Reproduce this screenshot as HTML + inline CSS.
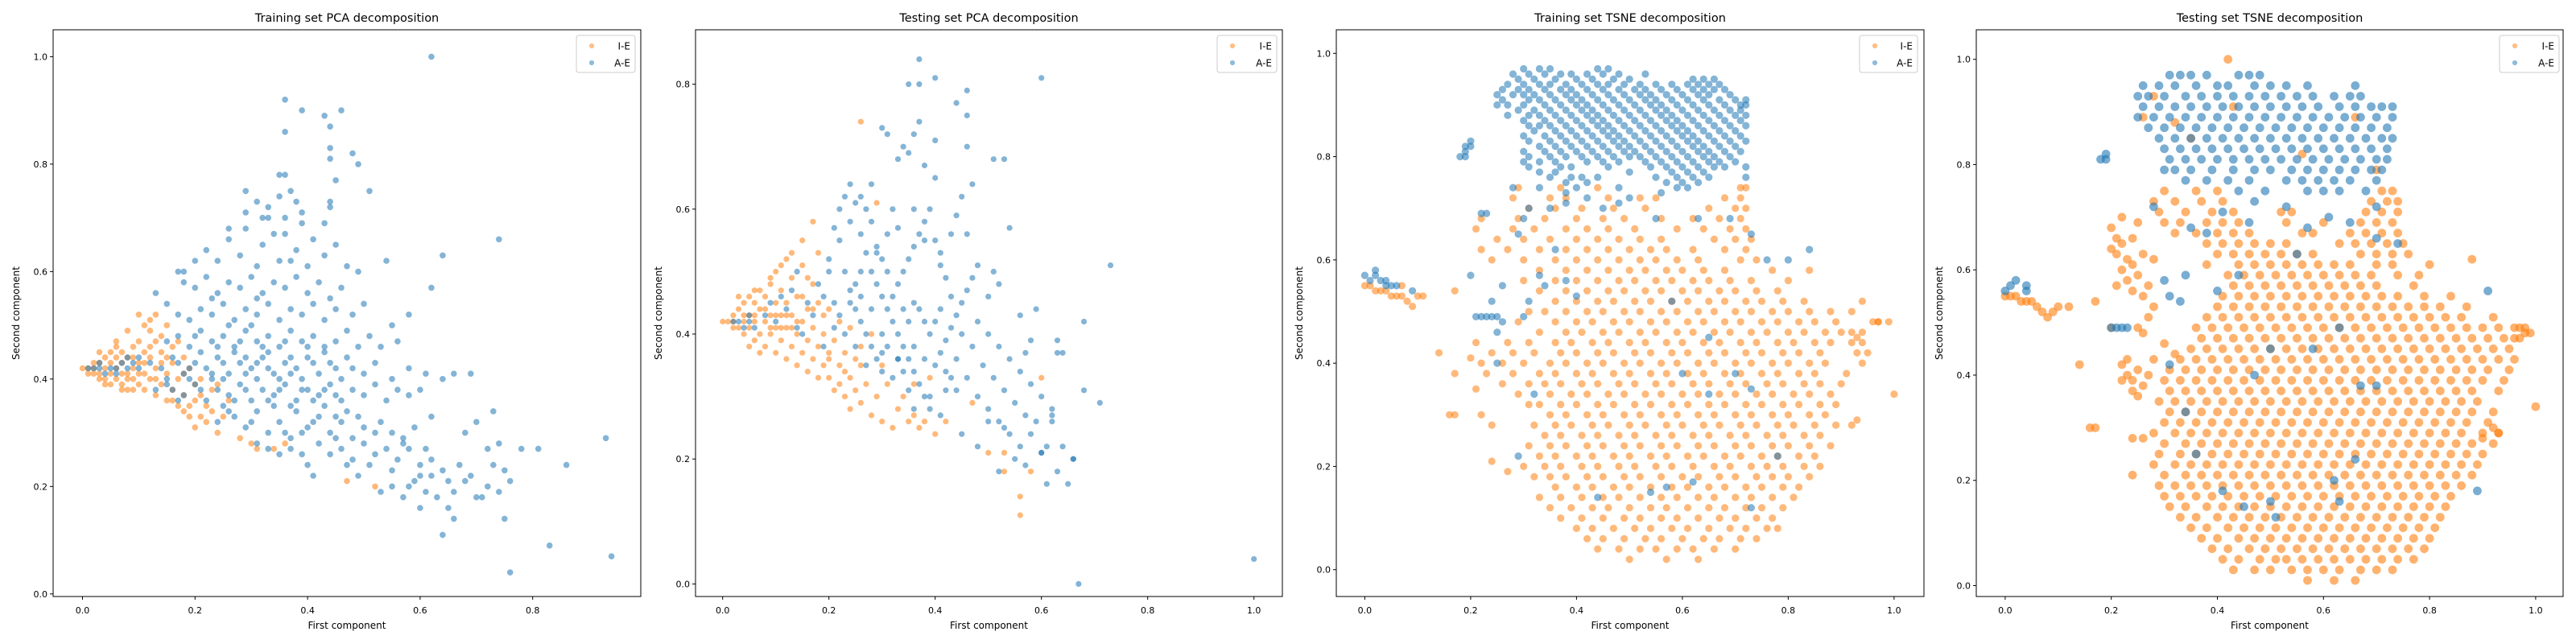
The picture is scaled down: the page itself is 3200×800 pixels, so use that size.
<!DOCTYPE html>
<html><head><meta charset="utf-8"><title>PCA / TSNE decompositions</title>
<style>
html,body{margin:0;padding:0;background:#fff;}
svg{display:block;font-family:"DejaVu Sans","Liberation Sans",sans-serif;}
</style></head>
<body>
<svg id="fig" width="3200" height="800" viewBox="0 0 3200 800" xmlns="http://www.w3.org/2000/svg">
<rect x="0" y="0" width="3200" height="800" fill="#fff"/>
</svg>
<script>
// ---------- Panel 1: Training set PCA ----------
const trainPcaIE = [0,.42,.01,.42,.02,.42,.02,.41,.03,.43,.03,.41,.04,.42,.04,.44,.04,.40,.05,.43,.05,.41,.05,.45,.06,.42,.06,.40,.06,.44,.07,.43,.07,.39,.07,.45,.08,.41,.08,.44,.08,.38,.09,.42,.09,.40,.09,.46,.10,.43,.10,.39,.10,.47,.11,.41,.11,.45,.11,.38,.12,.44,.12,.40,.12,.49,.13,.42,.13,.37,.13,.47,.14,.45,.14,.39,.15,.41,.15,.36,.15,.50,.16,.43,.16,.38,.17,.40,.17,.35,.18,.37,.18,.34,.19,.42,.19,.33,.20,.36,.20,.31,.21,.33,.22,.35,.22,.32,.23,.38,.24,.30,.25,.33,.28,.29,.30,.28,.31,.27,.34,.27,.36,.28,.47,.21,.52,.20,.10,.52,.12,.51,.14,.48,.08,.49,.06,.47,.03,.45,.02,.43,.05,.39,.07,.41,.09,.44,.11,.43,.13,.40,.16,.46,.18,.41,.06,.46,.04,.39,.08,.40,.10,.41,.12,.46,.14,.43,.16,.36,.18,.44,.20,.39,.21,.37,.15,.44,.17,.47,.09,.38,.07,.38,.03,.40,.01,.41,.11,.50,.13,.52,.19,.35,.23,.34,.26,.36,.21,.40,.24,.39];
const trainPcaAE = [.01,.42,.02,.42,.03,.42,.04,.41,.05,.42,.06,.42,.07,.43,.08,.42,.09,.43,.10,.42,.06,.41,.08,.44,.10,.44,.12,.43,.03,.43,
.24,.32,.27,.33,.29,.31,.31,.34,.33,.30,.35,.32,.37,.29,.38,.34,.40,.31,.42,.33,.44,.30,.46,.32,.48,.29,.50,.31,.52,.30,.34,.35,.39,.30,.43,.35,.47,.34,.30,.32,.36,.30,.41,.32,.26,.34,.45,.33,.49,.33,.53,.32,.55,.30,.57,.28,.59,.31,.61,.27,
.31,.28,.33,.27,.37,.27,.39,.26,.42,.28,.44,.26,.46,.27,.48,.25,.50,.28,.52,.26,.54,.27,.56,.25,.58,.27,.60,.24,.62,.25,.40,.24,.35,.26,.45,.29,.51,.24,.55,.23,.57,.29,
.41,.22,.47,.24,.49,.22,.53,.19,.55,.20,.57,.18,.59,.21,.61,.19,.63,.18,.65,.21,.64,.23,.66,.19,.68,.21,.70,.18,.72,.20,.74,.19,.76,.21,.62,.22,.60,.22,.58,.20,.67,.24,.69,.22,.73,.24,.65,.16,.74,.28,.78,.27,.72,.27,.68,.30,
.62,1.0,.36,.92,.39,.90,.46,.90,.43,.89,.44,.87,.36,.86,.44,.83,.44,.81,.48,.82,.49,.80,.36,.78,.35,.78,.45,.77,.51,.75,.74,.66,.64,.63,.54,.62,.62,.57,.83,.09,.94,.07,.76,.04,.64,.11,.75,.14,.66,.14,.81,.27,.86,.24,.93,.29,.69,.41,.66,.41,.70,.32,.73,.34,.62,.33,.75,.23,.60,.16,.71,.18,
.16,.38,.18,.37,.20,.39,.22,.36,.24,.38,.26,.37,.28,.39,.30,.36,.32,.38,.34,.37,.36,.39,.38,.36,.40,.38,.42,.37,.44,.39,.46,.36,.48,.38,.50,.37,.52,.39,.54,.36,.56,.38,.58,.37,.25,.35,.27,.36,.29,.38,.31,.40,.33,.36,.35,.38,.37,.35,.39,.38,.41,.36,.43,.38,.45,.37,.23,.40,.21,.38,.19,.40,.17,.36,.13,.38,.15,.39,.60,.38,
.14,.42,.16,.44,.18,.41,.20,.43,.22,.42,.24,.44,.26,.41,.28,.43,.30,.42,.32,.44,.34,.41,.36,.43,.38,.42,.40,.44,.42,.41,.44,.43,.46,.40,.48,.42,.50,.41,.52,.43,.55,.40,.58,.42,.61,.41,.64,.40,.21,.45,.23,.41,.25,.43,.27,.45,.29,.41,.31,.43,.33,.45,.35,.40,.37,.44,.39,.40,.41,.43,.43,.45,.45,.42,.47,.44,.19,.42,.17,.43,.15,.40,.25,.40,.29,.44,.33,.42,.37,.41,
.15,.47,.17,.48,.19,.46,.21,.49,.23,.47,.25,.48,.27,.46,.29,.49,.31,.47,.33,.48,.35,.46,.37,.49,.39,.47,.41,.48,.43,.46,.45,.47,.47,.49,.49,.46,.51,.48,.53,.46,.56,.47,.24,.46,.28,.47,.32,.46,.36,.47,.40,.46,.20,.48,.26,.50,.30,.50,
.17,.52,.19,.51,.21,.53,.23,.52,.25,.54,.27,.51,.29,.53,.31,.52,.33,.54,.35,.51,.37,.53,.39,.52,.41,.54,.43,.51,.45,.53,.48,.52,.50,.54,.55,.50,.13,.56,.15,.54,.58,.52,
.18,.58,.20,.57,.22,.59,.24,.56,.26,.58,.28,.57,.30,.59,.32,.56,.34,.58,.36,.57,.38,.59,.40,.56,.42,.58,.44,.55,.46,.57,.49,.60,.17,.60,.23,.55,.31,.55,
.22,.64,.24,.62,.26,.66,.28,.63,.29,.68,.31,.61,.32,.65,.33,.70,.35,.62,.36,.67,.38,.64,.40,.61,.41,.66,.43,.63,.45,.65,.47,.61,.26,.68,.34,.67,.39,.69,.43,.69,.37,.62,.20,.62,.18,.60,
.29,.75,.31,.73,.33,.72,.35,.74,.37,.75,.38,.73,.39,.71,.44,.73,.44,.72,.32,.70,.36,.70,.29,.71];

// ---------- Panel 2: Testing set PCA ----------
const testPcaIE = [0,.42,.01,.42,.02,.42,.02,.43,.03,.41,.03,.44,.04,.42,.04,.40,.04,.45,.05,.43,.05,.41,.05,.46,.06,.42,.06,.39,.06,.45,.07,.44,.07,.40,.07,.47,.08,.42,.08,.38,.08,.46,.09,.43,.09,.40,.09,.48,.10,.41,.10,.45,.10,.37,.10,.50,.11,.43,.11,.39,.11,.47,.12,.41,.12,.36,.12,.45,.12,.52,.13,.43,.13,.38,.13,.49,.14,.40,.14,.46,.14,.35,.15,.42,.15,.37,.15,.51,.16,.44,.16,.39,.16,.34,.17,.41,.17,.36,.17,.48,.18,.38,.18,.33,.18,.45,.19,.40,.19,.35,.20,.37,.20,.33,.21,.39,.21,.31,.22,.35,.22,.32,.23,.30,.23,.37,.24,.28,.24,.33,.25,.31,.26,.29,.26,.35,.27,.32,.28,.27,.29,.30,.30,.26,.31,.32,.32,.25,.33,.28,.34,.30,.35,.26,.36,.27,.37,.25,.38,.26,.40,.24,.42,.26,.36,.32,.39,.33,.30,.35,.26,.38,.28,.40,.13,.53,.11,.51,.09,.49,.06,.47,.03,.46,.16,.49,.18,.53,.20,.44,.22,.42,.24,.41,.19,.43,.05,.38,.07,.37,.02,.41,.08,.44,.10,.43,.12,.43,.14,.42,.06,.43,.04,.43,.09,.41,.11,.41,.13,.41,.15,.46,.17,.44,.47,.29,.50,.21,.53,.21,.53,.18,.56,.11,.56,.14,.58,.18,.60,.33,.26,.74,.29,.61,.17,.58,.15,.55,.20,.36,.23,.34,.25,.36];
const testPcaAE = [.02,.42,.03,.42,.04,.41,.05,.42,.06,.41,.05,.43,.08,.43,.10,.42,.12,.44,.14,.41,.09,.45,.13,.47,.16,.45,.15,.40,.17,.43,.18,.48,.19,.46,.20,.50,.21,.45,.22,.43,.11,.46,.14,.50,
.20,.52,.22,.55,.24,.58,.26,.56,.27,.53,.28,.50,.29,.48,.30,.46,.31,.44,.32,.42,.33,.40,.34,.38,.35,.36,.36,.34,.37,.32,.38,.30,.39,.28,.40,.35,.41,.37,.42,.39,.43,.41,.44,.43,.45,.45,.46,.47,.47,.49,.48,.51,.45,.40,.44,.36,.43,.33,.42,.31,.46,.33,.48,.30,.50,.28,.52,.26,.54,.24,.56,.22,.58,.24,.60,.21,.62,.26,.64,.22,.66,.20,.24,.47,.25,.44,.26,.42,.27,.40,.28,.38,.29,.36,.30,.34,.31,.38,.32,.46,.33,.48,.34,.50,.35,.52,.36,.54,.37,.56,.38,.58,.39,.60,.40,.55,.41,.51,.42,.49,.43,.46,.37,.44,.38,.42,.39,.40,.35,.42,.36,.45,.34,.44,.33,.36,.31,.50,.30,.52,.29,.54,.28,.58,.27,.60,.25,.61,.23,.62,.22,.60,.21,.57,.23,.50,.25,.48,.26,.46,.28,.44,.30,.40,.32,.33,.34,.34,.36,.38,.38,.36,.40,.42,.41,.44,.42,.34,.44,.31,.47,.38,.48,.42,.50,.40,.52,.38,.54,.36,.56,.34,.58,.32,.60,.30,.62,.28,.49,.35,.51,.33,.53,.31,.55,.29,.57,.27,.59,.26,.50,.46,.52,.48,.51,.50,.54,.57,.56,.43,.59,.44,.58,.39,.63,.37,.64,.37,.68,.31,.71,.29,.73,.51,.68,.42,.63,.39,.57,.37,.46,.56,.45,.62,.44,.59,.47,.64,.40,.65,.38,.67,.35,.69,.34,.70,.30,.73,.31,.72,.33,.68,.36,.72,.37,.74,.40,.71,.46,.70,.51,.68,.53,.68,.44,.77,.46,.79,.46,.75,.35,.80,.37,.80,.40,.81,.37,.84,.60,.81,.67,0,1.0,.04,.65,.16,.61,.16,.63,.18,.66,.20,.61,.22,.62,.27,.60,.21,.55,.20,.52,.18,.57,.19,.53,.25,.50,.26,.48,.22,.45,.24,.41,.27,.39,.30,.36,.28,.35,.31,.33,.36,.30,.37,.27,.35,.25,.38,.23,.40,.21,.41,.19,.38,.24,.45,.26,.50,.29,.53,.31,.56,.33,.57,.36,.60,.38,.55,.41,.53,.43,.56,.32,.60,.28,.64,.26,.62,.24,.64];

// ---------- Panel 3: Training set TSNE (rows: [y, [x...]]) ----------
const trainTsneAERows = [
[.97,[.30,.33,.35,.44,.46]],[.96,[.28,.31,.34,.37,.39,.42,.45,.48,.53]],[.95,[.29,.32,.36,.40,.43,.47,.50,.62,.64,.66]],
[.94,[.27,.30,.33,.35,.38,.41,.44,.46,.49,.52,.55,.58,.61,.63,.65,.67]],[.93,[.26,.29,.31,.34,.37,.39,.42,.45,.48,.51,.53,.56,.59,.62,.64,.66,.68]],
[.92,[.25,.28,.30,.32,.35,.38,.40,.43,.46,.49,.52,.54,.57,.60,.63,.65,.69]],[.91,[.26,.31,.33,.36,.39,.41,.44,.47,.50,.53,.55,.58,.61,.64,.67,.70,.72]],
[.90,[.25,.27,.30,.34,.37,.40,.42,.45,.48,.51,.54,.56,.59,.62,.65,.68,.71,.72]],[.89,[.29,.32,.35,.38,.41,.43,.46,.49,.52,.55,.57,.60,.63,.66,.69,.71]],
[.88,[.27,.31,.33,.36,.39,.42,.44,.47,.50,.53,.56,.58,.61,.64,.67,.70,.72]],[.87,[.30,.34,.37,.40,.43,.45,.48,.51,.54,.57,.59,.62,.65,.68,.71]],
[.86,[.31,.33,.35,.38,.41,.44,.46,.49,.52,.55,.58,.60,.63,.66,.69,.72]],[.85,[.32,.36,.39,.42,.45,.47,.50,.53,.56,.59,.61,.64,.67,.70]],
[.84,[.30,.34,.37,.40,.43,.46,.48,.51,.54,.57,.60,.62,.65,.68,.71]],[.83,[.31,.35,.38,.41,.44,.47,.49,.52,.55,.58,.61,.63,.66,.69,.72]],
[.82,[.33,.36,.39,.42,.45,.48,.50,.53,.56,.59,.62,.64,.67,.70]],[.81,[.30,.34,.37,.40,.43,.46,.49,.51,.54,.57,.60,.63,.65,.68,.71]],
[.80,[.31,.35,.38,.41,.44,.47,.50,.52,.55,.58,.61,.64,.66,.69]],[.79,[.30,.33,.36,.42,.45,.48,.53,.56,.59,.62,.65,.67,.70]],
[.78,[.31,.39,.46,.54,.57,.60,.63,.66,.68,.72]],[.77,[.33,.36,.50,.58,.61,.64]],[.76,[.35,.41,.44,.55,.59,.62,.65]],[.75,[.38,.42,.57,.60,.63]],[.74,[.40,.59,.61]]];
const trainTsneAEExtra = [.19,.80,.19,.81,.19,.82,.20,.82,.20,.83,.18,.80,.38,.73,.42,.72,.45,.70,.48,.71,.35,.70,.31,.70,.28,.74,.30,.68,.29,.65,.36,.62,.38,.56,.40,.53,.34,.55,.33,.57,.31,.52,.30,.49,.26,.48,.24,.52,.20,.57,.23,.69,.22,.69,.25,.46,0,.57,.01,.56,.02,.57,.02,.58,.03,.56,.04,.56,.05,.55,.06,.55,.04,.55,.09,.54,.21,.49,.22,.49,.23,.49,.24,.49,.25,.49,.32,.34,.29,.22,.25,.40,.26,.55,.62,.17,.73,.12,.78,.22,.84,.62,.80,.60,.65,.45,.73,.35,.76,.60,.60,.38,.65,.34,.54,.15,.44,.14,.57,.16,.48,.74,.55,.68,.63,.68,.69,.68,.73,.65,.72,.76,.58,.52,.37,.78,.70,.38,.38,.71,.50,.72,.56,.73,.33,.74,.39,.76];
const trainTsneIERows = [
[.02,[.50,.57,.63]],[.04,[.44,.48,.52,.55,.59,.62,.66,.70]],[.06,[.42,.45,.49,.53,.56,.60,.64,.67,.71,.74]],
[.08,[.40,.43,.47,.51,.54,.58,.61,.65,.69,.72,.76,.78]],[.10,[.37,.41,.45,.49,.52,.56,.59,.63,.67,.70,.74,.77]],
[.12,[.35,.39,.43,.46,.50,.54,.57,.61,.65,.68,.72,.75,.79]],[.14,[.33,.37,.41,.45,.48,.52,.56,.59,.63,.66,.70,.73,.77,.81]],
[.16,[.36,.40,.43,.47,.50,.54,.58,.61,.65,.68,.72,.75,.79,.82]],[.18,[.32,.35,.38,.42,.45,.49,.52,.56,.60,.63,.67,.70,.74,.77,.80,.84]],
[.20,[.30,.34,.37,.41,.44,.48,.51,.55,.58,.62,.66,.69,.73,.76,.79,.83,.86]],[.22,[.33,.36,.40,.43,.47,.50,.54,.57,.61,.64,.68,.71,.75,.78,.82,.85]],
[.24,[.31,.35,.38,.42,.45,.49,.52,.56,.59,.63,.66,.70,.73,.77,.80,.84,.88]],[.26,[.34,.37,.41,.44,.48,.51,.55,.58,.62,.65,.69,.72,.76,.79,.83,.86]],
[.28,[.32,.36,.39,.43,.46,.50,.53,.57,.60,.64,.67,.71,.74,.78,.81,.85,.89,.92]],[.30,[.35,.38,.42,.45,.49,.52,.56,.59,.63,.66,.70,.73,.77,.80,.84,.87]],
[.32,[.31,.33,.37,.40,.44,.47,.51,.54,.58,.61,.65,.68,.72,.75,.79,.82,.86,.89]],[.34,[.29,.35,.39,.42,.46,.49,.53,.56,.60,.63,.67,.70,.74,.77,.81,.84,.88]],
[.36,[.26,.31,.34,.37,.41,.44,.48,.51,.55,.58,.62,.65,.69,.72,.76,.79,.83,.86,.90]],[.38,[.23,.28,.33,.36,.40,.43,.47,.50,.54,.57,.61,.64,.68,.71,.75,.78,.82,.85,.91]],
[.40,[.22,.26,.30,.35,.38,.42,.45,.49,.52,.56,.59,.63,.66,.70,.73,.77,.80,.84,.87,.94]],[.42,[.24,.28,.32,.37,.40,.44,.47,.51,.54,.58,.61,.65,.68,.72,.75,.79,.82,.86,.93,.95]],
[.44,[.21,.27,.31,.36,.39,.43,.46,.50,.53,.57,.60,.64,.67,.71,.74,.78,.81,.85,.88,.92,.94]],[.46,[.33,.38,.41,.45,.48,.52,.55,.59,.62,.66,.69,.73,.76,.80,.83,.87,.90,.94]],
[.48,[.29,.36,.40,.43,.47,.50,.54,.57,.61,.64,.68,.71,.75,.78,.82,.85,.89,.97,.99]],[.50,[.31,.34,.38,.42,.45,.49,.52,.56,.59,.63,.66,.70,.73,.77,.80,.84,.88,.92]],
[.52,[.36,.40,.44,.47,.51,.54,.58,.61,.65,.68,.72,.75,.79,.83,.94]],[.54,[.33,.38,.42,.46,.49,.53,.56,.60,.63,.67,.70,.74,.78]],
[.56,[.30,.36,.40,.44,.48,.51,.55,.58,.62,.65,.69,.73,.80]],[.58,[.33,.38,.42,.46,.50,.53,.57,.60,.64,.68,.77,.84]],
[.60,[.24,.30,.36,.40,.44,.48,.52,.55,.59,.63,.71,.74]],[.62,[.22,.27,.33,.38,.42,.46,.50,.54,.57,.62,.68,.72]],
[.64,[.25,.30,.35,.40,.44,.48,.52,.56,.66,.70,.73]],[.66,[.21,.28,.32,.38,.42,.46,.51,.59,.64,.69,.72]],
[.68,[.22,.29,.34,.40,.45,.49,.56,.62,.67,.71]],[.70,[.31,.36,.41,.47,.53,.65,.70,.72]],[.72,[.28,.35,.38,.46,.52,.55,.68,.71]],[.74,[.29,.37,.44,.71,.72]]];
const trainTsneIEExtra = [0,.55,.01,.55,.02,.54,.03,.54,.04,.54,.05,.53,.06,.53,.07,.53,.08,.52,.09,.51,.10,.53,.11,.53,.07,.55,.14,.42,.17,.54,.17,.30,.16,.30,.17,.38,.24,.21,.27,.19,.24,.28,.22,.30,.21,.35,.20,.41,.93,.29,.96,.48,.97,.48,1.0,.34,.92,.46,.93,.45];

// ---------- Panel 4: Testing set TSNE ----------
const testTsneAERows = [
[.97,[.31,.33,.35,.38,.44,.46,.48]],[.95,[.26,.29,.32,.36,.40,.42,.47,.50,.53,.57,.66]],
[.93,[.25,.27,.30,.34,.37,.40,.43,.46,.49,.52,.55,.58,.62,.65,.67]],[.91,[.26,.29,.32,.35,.38,.41,.44,.47,.50,.53,.56,.59,.63,.66,.69,.71,.73]],
[.89,[.25,.28,.31,.34,.37,.40,.43,.46,.49,.52,.55,.58,.61,.64,.67,.70,.73]],[.87,[.27,.30,.33,.36,.39,.42,.45,.48,.51,.54,.57,.60,.63,.66,.69,.72]],
[.85,[.29,.32,.35,.38,.41,.44,.47,.50,.53,.56,.59,.62,.65,.68,.71,.73]],[.83,[.30,.33,.36,.39,.42,.45,.48,.51,.54,.57,.60,.63,.66,.69,.72]],
[.81,[.31,.34,.37,.40,.43,.46,.49,.52,.55,.58,.61,.64,.67,.70,.72]],[.79,[.30,.32,.35,.39,.43,.47,.50,.54,.57,.60,.63,.66,.69,.71]],
[.77,[.34,.38,.42,.46,.53,.56,.59,.62,.65,.70]],[.75,[.44,.49,.57,.60,.63,.68]]];
const testTsneAEExtra = [.19,.81,.19,.82,.18,.81,0,.56,.01,.57,.02,.58,.04,.57,.04,.56,.20,.49,.21,.49,.22,.49,.23,.49,.31,.55,.33,.54,.31,.42,.34,.33,.36,.25,.41,.18,.45,.15,.50,.16,.51,.13,.62,.20,.63,.16,.66,.24,.67,.38,.70,.38,.63,.49,.58,.45,.50,.45,.47,.40,.89,.18,.91,.56,.38,.67,.41,.71,.47,.73,.53,.72,.57,.68,.61,.70,.65,.69,.70,.66,.74,.65,.70,.72,.35,.68,.28,.72,.30,.58,.34,.59,.40,.56,.44,.59,.46,.69,.55,.63];
const testTsneIERows = [
[.01,[.57,.62,.66]],[.03,[.43,.47,.50,.54,.57,.60,.63,.67,.70,.73]],[.05,[.41,.44,.48,.51,.53,.56,.59,.62,.65,.68,.71,.74,.77]],
[.07,[.39,.42,.46,.49,.52,.55,.58,.61,.64,.67,.70,.73,.76,.79]],[.09,[.37,.40,.44,.47,.50,.53,.56,.59,.62,.65,.68,.71,.74,.77,.80]],
[.11,[.35,.38,.42,.45,.48,.51,.54,.57,.60,.63,.66,.69,.72,.75,.78,.81]],[.13,[.33,.36,.40,.43,.46,.49,.52,.55,.58,.61,.64,.67,.70,.73,.76,.79,.82]],
[.15,[.31,.34,.38,.41,.44,.47,.50,.53,.56,.59,.62,.65,.68,.71,.74,.77,.80,.83]],[.17,[.30,.33,.36,.39,.42,.45,.48,.51,.54,.57,.60,.63,.66,.69,.72,.75,.78,.81,.84]],
[.19,[.29,.32,.35,.38,.41,.44,.47,.50,.53,.56,.59,.62,.65,.68,.71,.74,.77,.80,.83,.86]],[.21,[.30,.34,.37,.40,.43,.46,.49,.52,.55,.58,.61,.64,.67,.70,.73,.76,.79,.82,.85,.88]],
[.23,[.28,.32,.35,.38,.41,.44,.47,.50,.53,.56,.59,.62,.65,.68,.71,.74,.77,.80,.83,.86,.89]],[.25,[.29,.33,.36,.39,.42,.45,.48,.51,.54,.57,.60,.63,.66,.69,.72,.75,.78,.81,.84,.87,.90]],
[.27,[.30,.34,.37,.40,.43,.46,.49,.52,.55,.58,.61,.64,.67,.70,.73,.76,.79,.82,.85,.88,.92]],[.29,[.28,.32,.35,.38,.41,.44,.47,.50,.53,.56,.59,.62,.65,.68,.71,.74,.77,.80,.83,.86,.90,.93]],
[.31,[.30,.33,.36,.39,.42,.45,.48,.51,.54,.57,.60,.63,.66,.69,.72,.75,.78,.81,.84,.87,.91]],[.33,[.31,.34,.37,.40,.43,.46,.49,.52,.55,.58,.61,.64,.67,.70,.73,.76,.79,.82,.85,.88,.92]],
[.35,[.29,.32,.35,.38,.41,.44,.47,.50,.53,.56,.59,.62,.65,.68,.71,.74,.77,.80,.83,.86,.89]],[.37,[.31,.34,.37,.40,.43,.46,.49,.52,.55,.58,.61,.64,.67,.70,.73,.76,.79,.82,.85,.88,.93]],
[.39,[.30,.33,.36,.39,.42,.45,.48,.51,.54,.57,.60,.63,.66,.69,.72,.75,.78,.81,.84,.87,.90,.94]],[.41,[.31,.34,.37,.40,.43,.46,.49,.52,.55,.58,.61,.64,.67,.70,.73,.76,.79,.82,.85,.88,.91,.95]],
[.43,[.33,.36,.39,.42,.45,.48,.51,.54,.57,.60,.63,.66,.69,.72,.75,.78,.81,.84,.87,.90,.93,.96]],[.45,[.35,.38,.41,.44,.47,.50,.53,.56,.59,.62,.65,.68,.71,.74,.77,.80,.83,.86,.89,.92,.95]],
[.47,[.37,.40,.43,.46,.49,.52,.55,.58,.61,.64,.67,.70,.73,.76,.79,.82,.85,.88,.91,.94,.97]],[.49,[.36,.39,.42,.45,.48,.51,.54,.57,.60,.63,.66,.69,.72,.75,.78,.81,.84,.87,.90,.93,.96,.98]],
[.51,[.38,.41,.44,.47,.50,.53,.56,.59,.62,.65,.68,.71,.74,.77,.80,.83,.86,.92]],[.53,[.40,.43,.46,.49,.52,.55,.58,.61,.64,.67,.70,.73,.76,.79,.82,.87]],
[.55,[.41,.44,.47,.50,.53,.56,.59,.62,.65,.68,.71,.74,.79,.84]],[.57,[.43,.46,.49,.52,.55,.58,.61,.64,.67,.70,.77]],
[.59,[.42,.45,.48,.51,.54,.57,.60,.63,.66,.69,.74,.78]],[.61,[.38,.44,.47,.50,.53,.56,.59,.62,.65,.70,.73,.80]],
[.63,[.40,.43,.46,.49,.52,.55,.58,.67,.70,.73,.76]],[.65,[.38,.41,.44,.47,.50,.53,.63,.66,.69,.72,.75]],
[.67,[.32,.36,.40,.43,.46,.56,.58,.65,.68,.71,.74]],[.69,[.30,.33,.38,.41,.44,.53,.60,.67,.70,.73]],
[.71,[.29,.34,.39,.43,.52,.54,.68,.71,.74]],[.73,[.28,.32,.37,.41,.69,.72,.74]],[.75,[.30,.36,.40,.71,.73]]];
const testTsneIEExtra = [.20,.68,.21,.66,.22,.65,.21,.63,.23,.62,.22,.60,.24,.61,.25,.59,.23,.58,.26,.63,.24,.66,.22,.70,.25,.69,.28,.62,.27,.57,.20,.64,.26,.55,.24,.56,.22,.42,.23,.40,.24,.39,.25,.41,.24,.37,.26,.38,.23,.43,.25,.36,.22,.39,.27,.40,0,.55,.01,.55,.02,.55,.03,.54,.04,.54,.05,.54,.06,.53,.07,.52,.08,.51,.09,.52,.10,.53,.12,.53,.14,.42,.17,.54,.17,.30,.16,.30,.24,.21,.26,.28,.24,.28,.28,.43,.27,.51,.25,.49,.26,.48,.42,1.0,.88,.62,1.0,.34,.98,.48,.97,.49,.99,.48,.96,.47,.93,.29,.92,.30,.90,.28,.28,.53,.30,.46,.32,.44,.20,.49,.21,.57,.28,.93,.26,.89,.32,.88,.35,.85,.43,.91,.56,.82,.66,.89,.70,.79];

// tick labels
const pcaTrainXTicks = [0,0.2,0.4,0.6,0.8];
const pcaTrainYTicks = [0,0.2,0.4,0.6,0.8,1.0];
const pcaTestXTicks = [0,0.2,0.4,0.6,0.8,1.0];
const pcaTestYTicks = [0,0.2,0.4,0.6,0.8];
const tsneTicks = [0,0.2,0.4,0.6,0.8,1.0];
const legendLabels = ["I-E","A-E"];
const seriesColors = ["#ff7f0e","#1f77b4"];

const NS = "http://www.w3.org/2000/svg";
const svg = document.getElementById('fig');
function mk(tag, attrs, parent){
  const e = document.createElementNS(NS, tag);
  for (const k in attrs) e.setAttribute(k, attrs[k]);
  (parent||svg).appendChild(e);
  return e;
}
function rowsToPairs(rows){
  const out=[];
  rows.forEach(r=>r[1].forEach(x=>{out.push(x, r[0]);}));
  return out;
}

const panels = [
  {name:'training-pca', title:'Training set PCA decomposition', box:[66,37,796,741], x0:102.5, kx:699, y0:737.8, ky:667.4,
   xt:pcaTrainXTicks, yt:pcaTrainYTicks, ie:trainPcaIE, ae:trainPcaAE, leg:[716,44,73,46], r:3.8, op:0.55},
  {name:'testing-pca', title:'Testing set PCA decomposition', box:[864,37,1593,741], x0:897.7, kx:660, y0:725.4, ky:776,
   xt:pcaTestXTicks, yt:pcaTestYTicks, ie:testPcaIE, ae:testPcaAE, leg:[1512,44,74,46], r:3.6, op:0.55},
  {name:'training-tsne', title:'Training set TSNE decomposition', box:[1660,37,2390,741], x0:1695.4, kx:657.5, y0:707.7, ky:641.4,
   xt:tsneTicks, yt:tsneTicks, ie:rowsToPairs(trainTsneIERows).concat(trainTsneIEExtra), ae:rowsToPairs(trainTsneAERows).concat(trainTsneAEExtra), leg:[2310,44,72,46], r:4.6, op:0.55},
  {name:'testing-tsne', title:'Testing set TSNE decomposition', box:[2455,37,3184,741], x0:2490.9, kx:659, y0:727.5, ky:653.8,
   xt:tsneTicks, yt:tsneTicks, ie:rowsToPairs(testTsneIERows).concat(testTsneIEExtra), ae:rowsToPairs(testTsneAERows).concat(testTsneAEExtra), leg:[3105,44,74,46], r:5.4, op:0.6}
];

panels.forEach(p=>{
  const g = mk('g', {});
  
  
  const [L,T,R,B] = p.box;
  const X = v => p.x0 + v*p.kx;
  const Y = v => p.y0 - v*p.ky;

  const clip = mk('clipPath', {id:'clip-'+p.name}, g);
  mk('rect', {x:L, y:T, width:R-L, height:B-T}, clip);

  const pts = mk('g', {'clip-path':'url(#clip-'+p.name+')'}, g);
  
  
  [[p.ie,0],[p.ae,1]].forEach(([arr,si])=>{
    const sg = mk('g', {fill:seriesColors[si], 'fill-opacity':p.op}, pts);
    
    
    for (let i=0;i<arr.length;i+=2){
      const c = mk('circle', {cx:X(arr[i]).toFixed(1), cy:Y(arr[i+1]).toFixed(1), r:p.r}, sg);
      
      
    }
  });

  const frame = mk('rect', {x:L, y:T, width:R-L, height:B-T, fill:'none', stroke:'#000', 'stroke-width':1}, g);
  
  

  p.xt.forEach(v=>{
    const x = X(v);
    mk('line', {x1:x, x2:x, y1:B, y2:B+4, stroke:'#000', 'stroke-width':1}, g);
    const t = mk('text', {x:x, y:762, 'font-size':11, 'text-anchor':'middle', fill:'#000'}, g);
    t.textContent = v.toFixed(1);
    
    
  });
  p.yt.forEach(v=>{
    const y = Y(v);
    mk('line', {x1:L-4, x2:L, y1:y, y2:y, stroke:'#000', 'stroke-width':1}, g);
    const t = mk('text', {x:L-7, y:y+4, 'font-size':11, 'text-anchor':'end', fill:'#000'}, g);
    t.textContent = v.toFixed(1);
    
    
  });

  const cx = (L+R)/2;
  const title = mk('text', {x:cx, y:27, 'font-size':14.5, 'text-anchor':'middle', fill:'#000'}, g);
  title.textContent = p.title;
  
  

  const xl = mk('text', {x:cx, y:781, 'font-size':12, 'text-anchor':'middle', fill:'#000'}, g);
  xl.textContent = 'First component';
  
  

  const yx = L-42, yy=(T+B)/2;
  const yl = mk('text', {x:yx, y:yy, 'font-size':12, 'text-anchor':'middle', fill:'#000', transform:'rotate(-90 '+yx+' '+yy+')'}, g);
  yl.textContent = 'Second component';
  
  

  const [lx,ly,lw,lh] = p.leg;
  const lg = mk('g', {}, g);
  
  
  mk('rect', {x:lx, y:ly, width:lw, height:lh, rx:3, fill:'#fff', 'fill-opacity':0.8, stroke:'#ccc', 'stroke-width':1}, lg);
  legendLabels.forEach((lab,i)=>{
    const ry = ly + 13 + i*21;
    const m = mk('circle', {cx:lx+19, cy:ry, r:3.1, fill:seriesColors[i], 'fill-opacity':0.5}, lg);
    
    
    const t = mk('text', {x:lx+lw-6, y:ry+4.5, 'font-size':12, 'text-anchor':'end', fill:'#000'}, lg);
    t.textContent = lab;
    
    
  });
});
</script>
</body></html>
